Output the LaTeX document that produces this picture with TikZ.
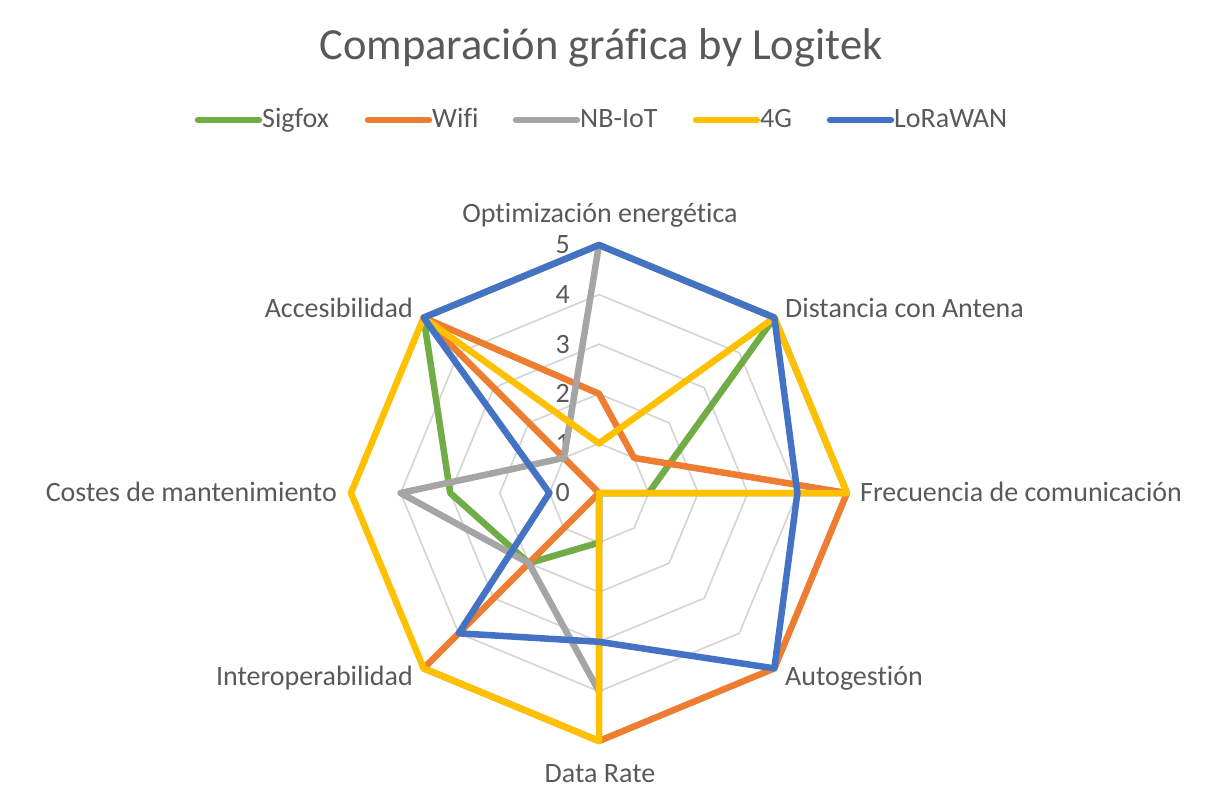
\documentclass[tikz,border=0pt]{standalone}
\usepackage{fontspec}
\setmainfont{Carlito}[Ligatures=NoCommon]

\definecolor{sigfox}{HTML}{70AD47}
\definecolor{wifi}{HTML}{ED7D31}
\definecolor{nbiot}{HTML}{A5A5A5}
\definecolor{cuatrog}{HTML}{FFC000}
\definecolor{lorawan}{HTML}{4472C4}
\definecolor{texto}{HTML}{595959}
\definecolor{rejilla}{HTML}{D4D4D4}

\begin{document}
\begin{tikzpicture}[x=1pt, y=1pt,
    serie/.style={line width=6.5pt, line join=round},
    gitter/.style={draw=rejilla, line width=1.6pt},
    beschriftung/.style={text=texto, font=\fontsize{28}{30}\selectfont, inner sep=0pt}]

        \useasboundingbox (-599,-303) rectangle (607,493);
        \coordinate (centro) at (0,0);

        \node [beschriftung, font=\fontsize{44.5}{48}\selectfont, anchor=base] (titulo) at ([xshift=2pt, yshift=433pt]centro) {Comparación gráfica by Logitek};

        % Rejilla
        \foreach \r in {1,...,5}
            \draw [gitter] (0:\r*49.6) \foreach \w in {45,90,...,315} { -- (\w:\r*49.6) } -- cycle;

        % Escala
        \foreach \r in {0,...,5}
            \node [beschriftung, anchor=east] (escala\r) at (-29, \r*49.6) {\r};

        % Ejes
        \foreach \nombre/\etiqueta/\anker/\x/\y in {optimizacion/Optimización energética/base/1/271, distancia/Distancia con Antena/base west/186/176, frecuencia/Frecuencia de comunicación/base west/261/-8, autogestion/Autogestión/base west/186/-192, datarate/Data Rate/base/1/-289, interop/Interoperabilidad/base east/-186/-192, costes/Costes de mantenimiento/base east/-262/-8, accesibilidad/Accesibilidad/base east/-186/176}
            \node [beschriftung, anchor=\anker] (\nombre) at (\x,\y) {\etiqueta};

        % Series
        \foreach \farbe/\wa/\wb/\wc/\wd/\we/\wf/\wg/\wh in {sigfox/5/5/1/0/1/2/3/5, wifi/2/1/5/5/5/5/0/5, nbiot/5/5/5/0/4/2/4/1, cuatrog/1/5/5/0/5/5/5/5, lorawan/5/5/4/5/3/4/1/5}
            \draw [serie, \farbe] (90:\wa*49.6) -- (45:\wb*49.6) -- (0:\wc*49.6) -- (-45:\wd*49.6) -- (-90:\we*49.6) -- (-135:\wf*49.6) -- (180:\wg*49.6) -- (135:\wh*49.6) -- cycle;

        % Leyenda
        \foreach \nombre/\farbe/\x in {Sigfox/sigfox/-404, Wifi/wifi/-234, NB-IoT/nbiot/-86, 4G/cuatrog/94, LoRaWAN/lorawan/228}
        {
            \draw [serie, \farbe, line cap=round] (\x+3,373) -- ++(61,0) coordinate (fin\farbe);
            \node [beschriftung, anchor=base west] (leyenda\farbe) at ([xshift=3pt, yshift=-8pt]fin\farbe) {\nombre};
        }

\end{tikzpicture}
\end{document}
